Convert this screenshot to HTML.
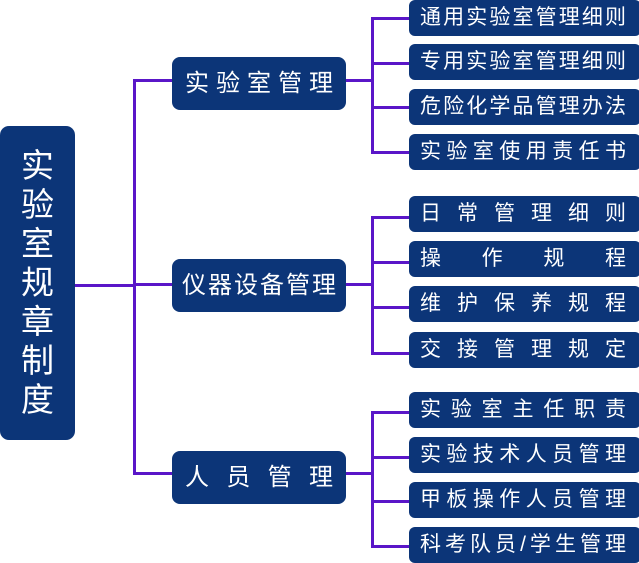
<!DOCTYPE html>
<html><head><meta charset="utf-8"><style>
body{margin:0;width:639px;height:563px;background:#fff;position:relative;overflow:hidden;font-family:"Liberation Sans","Noto Sans CJK SC",sans-serif}
.b{position:absolute;background:#0c3578;color:#fff;border-radius:6px;box-sizing:border-box}
.r{left:0;top:126px;width:75px;height:314px;border-radius:9px;font-size:33px;line-height:39px;text-align:center;padding-top:20px}
.m{left:172px;width:174px;height:53px;border-radius:8px;font-size:24px;line-height:53px;padding:0 13px;text-align:justify;text-align-last:justify}
.l{left:409px;width:232px;height:36px;font-size:21px;line-height:36px;padding:0 15px 0 11px;text-align:justify;text-align-last:justify}
.ln{position:absolute;background:#5a16c8}
</style></head><body>
<div class="ln" style="left:75px;top:284px;width:60px;height:3px"></div>
<div class="ln" style="left:133px;top:79px;width:3px;height:396px"></div>
<div class="ln" style="left:133px;top:79px;width:40px;height:3px"></div>
<div class="ln" style="left:133px;top:283px;width:40px;height:3px"></div>
<div class="ln" style="left:133px;top:472px;width:40px;height:3px"></div>

<div class="ln" style="left:346px;top:79px;width:27px;height:3px"></div>
<div class="ln" style="left:371px;top:17px;width:3px;height:136px"></div>
<div class="ln" style="left:371px;top:17px;width:38px;height:3px"></div>
<div class="ln" style="left:371px;top:62px;width:38px;height:3px"></div>
<div class="ln" style="left:371px;top:106px;width:38px;height:3px"></div>
<div class="ln" style="left:371px;top:151px;width:38px;height:3px"></div>

<div class="ln" style="left:346px;top:283px;width:27px;height:3px"></div>
<div class="ln" style="left:371px;top:216px;width:3px;height:139px"></div>
<div class="ln" style="left:371px;top:216px;width:38px;height:3px"></div>
<div class="ln" style="left:371px;top:261px;width:38px;height:3px"></div>
<div class="ln" style="left:371px;top:306px;width:38px;height:3px"></div>
<div class="ln" style="left:371px;top:352px;width:38px;height:3px"></div>

<div class="ln" style="left:346px;top:472px;width:27px;height:3px"></div>
<div class="ln" style="left:371px;top:411px;width:3px;height:136px"></div>
<div class="ln" style="left:371px;top:411px;width:38px;height:3px"></div>
<div class="ln" style="left:371px;top:456px;width:38px;height:3px"></div>
<div class="ln" style="left:371px;top:500px;width:38px;height:3px"></div>
<div class="ln" style="left:371px;top:545px;width:38px;height:3px"></div>

<div class="b r">实<br>验<br>室<br>规<br>章<br>制<br>度</div>
<div class="b m" style="top:57px">实验室管理</div>
<div class="b m" style="top:259px;padding:0 10px">仪器设备管理</div>
<div class="b m" style="top:451px">人员管理</div>

<div class="b l" style="top:0">通用实验室管理细则</div>
<div class="b l" style="top:44px">专用实验室管理细则</div>
<div class="b l" style="top:89px">危险化学品管理办法</div>
<div class="b l" style="top:134px">实验室使用责任书</div>
<div class="b l" style="top:196px">日常管理细则</div>
<div class="b l" style="top:241px">操作规程</div>
<div class="b l" style="top:286px">维护保养规程</div>
<div class="b l" style="top:332px">交接管理规定</div>
<div class="b l" style="top:392px">实验室主任职责</div>
<div class="b l" style="top:437px">实验技术人员管理</div>
<div class="b l" style="top:482px">甲板操作人员管理</div>
<div class="b l" style="top:527px">科考队员/学生管理</div>
</body></html>
